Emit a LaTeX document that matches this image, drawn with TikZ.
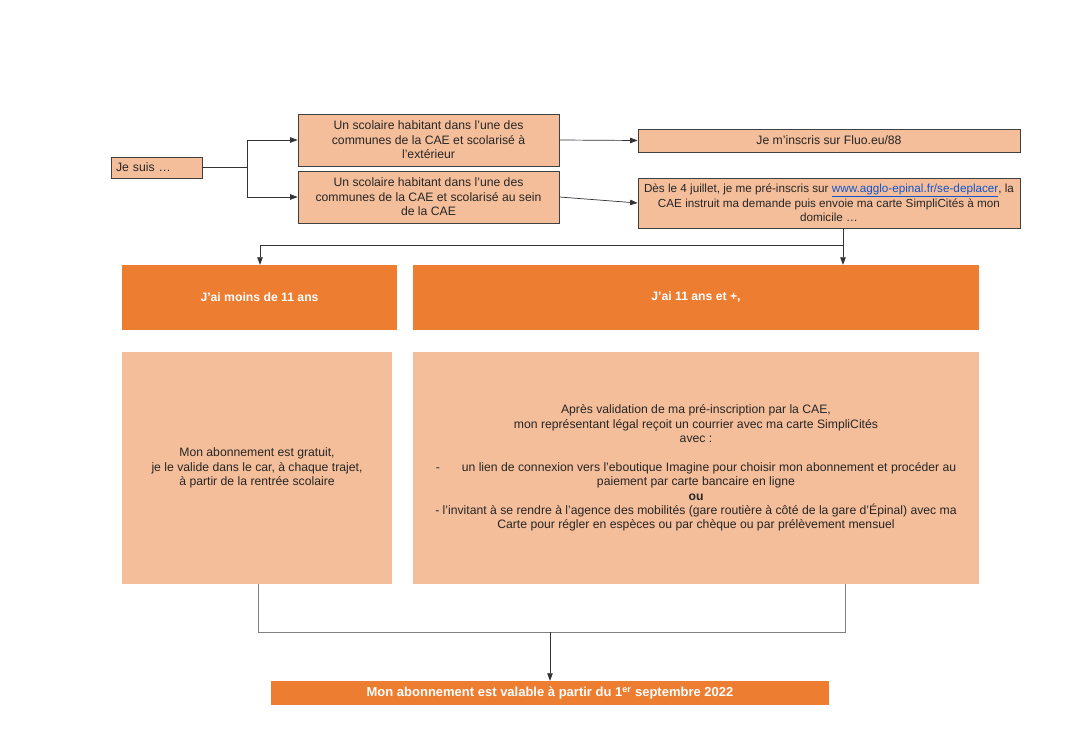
\documentclass[tikz,border=0pt]{standalone}
\usepackage{fontspec}
\setmainfont{Liberation Sans}
\usetikzlibrary{arrows.meta}
\definecolor{peach}{HTML}{F5BE9A}
\definecolor{orng}{HTML}{ED7D31}
\definecolor{edge}{HTML}{404040}
\definecolor{linkblue}{HTML}{1155CC}
\begin{document}
\begin{tikzpicture}[x=1pt,y=-1pt,
  font=\fontsize{12.2}{14.4}\selectfont,
  pbox/.style={draw=edge, line width=0.8pt, fill=peach, inner sep=0pt, align=center, text=black!85},
  obox/.style={fill=orng, inner sep=0pt, align=center, text=white, font=\fontsize{12.2}{14.4}\selectfont\bfseries},
  lbox/.style={fill=peach, inner sep=0pt, align=center, text=black!85},
  conn/.style={draw=black!80, line width=0.7pt},
  arr/.style={conn, -{Triangle[length=7.5pt,width=5.5pt]}}
]
\useasboundingbox (0,0) rectangle (1080,741);
\fill[white] (0,0) rectangle (1080,741);

\node[pbox, minimum width=91pt, minimum height=21pt, text width=81pt, inner xsep=5pt, align=left] (je) at (156.5,167.5) {Je suis …};
\node[pbox, minimum width=261pt, minimum height=52pt] (a) at (428.5,140) {Un scolaire habitant dans l’une des\\ communes de la CAE et scolarisé à\\ l’extérieur};
\node[pbox, minimum width=261pt, minimum height=52pt] (b) at (428.5,197) {Un scolaire habitant dans l’une des\\ communes de la CAE et scolarisé au sein\\ de la CAE};
\node[pbox, minimum width=382pt, minimum height=23pt] (c) at (829,140.5) {Je m’inscris sur Fluo.eu/88};
\node[pbox, minimum width=382pt, minimum height=50pt, font=\fontsize{11.7}{14.4}\selectfont] (d) at (829,203) {Dès le 4 juillet, je me pré-inscris sur \textcolor{linkblue}{\underline{www.agglo-epinal.fr/se-deplacer}}, la\\ CAE instruit ma demande puis envoie ma carte SimpliCités à mon\\ domicile …};

\node[obox, minimum width=275pt, minimum height=65pt] (m) at (259.5,297.5) {J’ai moins de 11 ans};
\node[obox, minimum width=566pt, minimum height=65pt] (p) at (696,297.5) {J’ai 11 ans et +,};

\node[lbox, minimum width=270pt, minimum height=232pt] (lm) at (257,468) {Mon abonnement est gratuit,\\ je le valide dans le car, à chaque trajet,\\ à partir de la rentrée scolaire};
\node[lbox, minimum width=566pt, minimum height=232pt] (lp) at (696,468) {Après validation de ma pré-inscription par la CAE,\\ mon représentant légal reçoit un courrier avec ma carte SimpliCités\\ avec :\\[14.4pt] -\hspace{1.8em}un lien de connexion vers l’eboutique Imagine pour choisir mon abonnement et procéder au\\ paiement par carte bancaire en ligne\\ \textbf{ou}\\ - l’invitant à se rendre à l’agence des mobilités (gare routière à côté de la gare d’Épinal) avec ma\\ Carte pour régler en espèces ou par chèque ou par prélèvement mensuel};

\node[obox, minimum width=558pt, minimum height=24pt, font=\fontsize{13}{15}\selectfont\bfseries] (fin) at (550,693) {Mon abonnement est valable à partir du 1\textsuperscript{er} septembre 2022};

% connectors
\coordinate (j1) at (247,167.5);
\draw[conn] (je.east) -- (j1);
\draw[arr] (j1) |- (a.west);
\draw[arr] (j1) |- (b.west);
\draw[arr] (a.east) -- (c.west);
\draw[arr] (b.east) -- (d.west);
\coordinate (k) at (843,245);
\coordinate (k2) at (260,245);
\draw[arr] (d.south -| k) -- (p.north -| k);
\draw[arr] (k) -- (k2) -- (m.north -| k2);
\coordinate (q1) at (258,632);
\coordinate (q2) at (845,632);
\coordinate (q3) at (550,632);
\draw[conn, draw=black!50] (lm.south -| q1) -- (q1) -- (q2) -- (lp.south -| q2);
\draw[arr] (q3) -- (fin.north -| q3);
\end{tikzpicture}
\end{document}
